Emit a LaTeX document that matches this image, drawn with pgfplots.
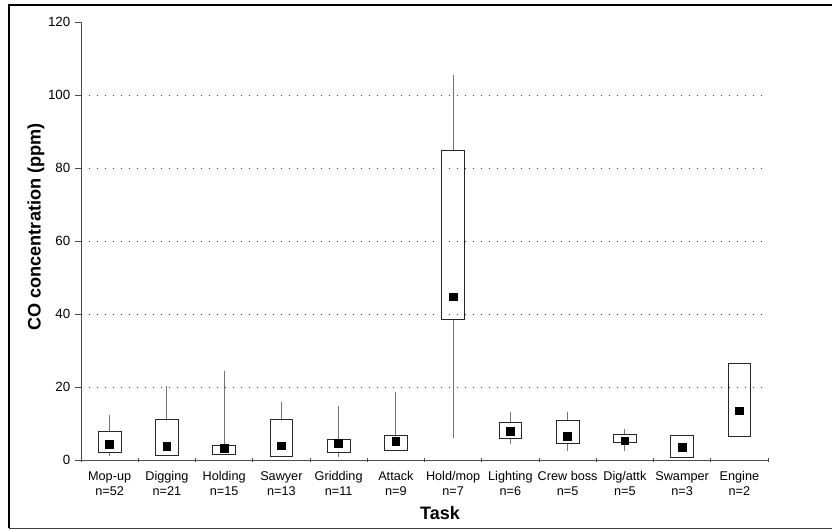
\documentclass[border=0pt]{standalone}
\usepackage{fontspec}
\setmainfont{Liberation Sans}
\usepackage{pgfplots}
\pgfplotsset{compat=1.18}
\usepgfplotslibrary{statistics}
\begin{document}
\begin{tikzpicture}[x=0.75pt,y=0.75pt]
\useasboundingbox (0,0) rectangle (832,530);
\draw[line width=1.6pt, black] (9,1.5) -- (9,525) -- (845,525);
\draw[line width=1.4pt, black!75] (9,1.5) -- (845,1.5);
\begin{axis}[
  at={(60.75pt,52.5pt)}, anchor=south west,
  scale only axis, width=515.25pt, height=328.5pt,
  xmin=0, xmax=12, ymin=0, ymax=120,
  axis x line*=bottom, axis y line*=left,
  axis line style={black!70, line width=0.6pt},
  /pgf/number format/assume math mode=true,
  ytick={0,20,...,120},
  ytick align=outside, major tick length=4.5pt,
  tick style={black!70, line width=0.5pt},
  yticklabel style={font=\fontsize{10}{11}\selectfont},
  extra y ticks={20,40,60,80,100},
  extra y tick labels={},
  extra y tick style={grid=major, major tick length=0pt},
  major grid style={black!75, line width=0.6pt, dash pattern=on 0.8pt off 5.2pt},
  xtick={0.5,1.5,...,11.5},
  xticklabels={Mop-up\\n=52, Digging\\n=21, Holding\\n=15, Sawyer\\n=13, Gridding\\n=11, Attack\\n=9, Hold/mop\\n=7, Lighting\\n=6, Crew boss\\n=5, Dig/attk\\n=5, Swamper\\n=3, Engine\\n=2},
  xticklabel style={font=\fontsize{9.5}{11}\selectfont, align=center, yshift=-3pt},
  x tick style={draw=none},
  minor xtick={0,1,...,12},
  minor x tick style={draw=black!70, line width=0.5pt},
  minor tick length=3.5pt,
  xtick align=center,
  clip=false,
  boxplot/draw direction=y,
  boxplot/box extend=0.4,
  boxplot/whisker extend=0,
  boxplot/every box/.style={draw=black!85, line width=0.6pt},
  boxplot/every whisker/.style={draw=black!55, line width=0.7pt},
  boxplot/every median/.style={draw=none},
]
\addplot[boxplot prepared={draw position=0.5, lower whisker=1.2, lower quartile=2.1, median=4.4, upper quartile=7.7, upper whisker=12.3}] coordinates {};
\addplot[boxplot prepared={draw position=1.5, lower whisker=1.2, lower quartile=1.2, median=3.8, upper quartile=11.1, upper whisker=20.4}] coordinates {};
\addplot[boxplot prepared={draw position=2.5, lower whisker=1.6, lower quartile=1.6, median=3.2, upper quartile=4.1, upper whisker=24.4}] coordinates {};
\addplot[boxplot prepared={draw position=3.5, lower whisker=1.0, lower quartile=1.0, median=3.9, upper quartile=11.2, upper whisker=15.8}] coordinates {};
\addplot[boxplot prepared={draw position=4.5, lower whisker=0.9, lower quartile=2.2, median=4.6, upper quartile=5.7, upper whisker=14.8}] coordinates {};
\addplot[boxplot prepared={draw position=5.5, lower whisker=2.6, lower quartile=2.6, median=5.1, upper quartile=6.8, upper whisker=18.7}] coordinates {};
\addplot[boxplot prepared={draw position=6.5, lower whisker=6.0, lower quartile=38.4, median=44.7, upper quartile=84.8, upper whisker=105.5}] coordinates {};
\addplot[boxplot prepared={draw position=7.5, lower whisker=4.4, lower quartile=5.8, median=7.9, upper quartile=10.2, upper whisker=13.1}] coordinates {};
\addplot[boxplot prepared={draw position=8.5, lower whisker=2.4, lower quartile=4.6, median=6.4, upper quartile=10.9, upper whisker=13.2}] coordinates {};
\addplot[boxplot prepared={draw position=9.5, lower whisker=2.5, lower quartile=4.7, median=5.3, upper quartile=7.1, upper whisker=8.4}] coordinates {};
\addplot[boxplot prepared={draw position=10.5, lower whisker=0.8, lower quartile=0.8, median=3.4, upper quartile=6.7, upper whisker=6.7}] coordinates {};
\addplot[boxplot prepared={draw position=11.5, lower whisker=6.6, lower quartile=6.6, median=13.5, upper quartile=26.6, upper whisker=26.6}] coordinates {};
\addplot[only marks, mark=square*, mark size=2.9pt, black] coordinates {
(0.5,4.4) (1.5,3.8) (2.5,3.2) (3.5,3.9) (4.5,4.6) (5.5,5.1) (6.5,44.7) (7.5,7.9) (8.5,6.4) (9.5,5.3) (10.5,3.4) (11.5,13.5)
};
\end{axis}
\node[font=\bfseries\fontsize{13.6}{15}\selectfont, rotate=90] at (36,303) {CO concentration (ppm)};
\node[font=\bfseries\fontsize{13.5}{15}\selectfont] at (440,17) {Task};
\end{tikzpicture}
\end{document}
